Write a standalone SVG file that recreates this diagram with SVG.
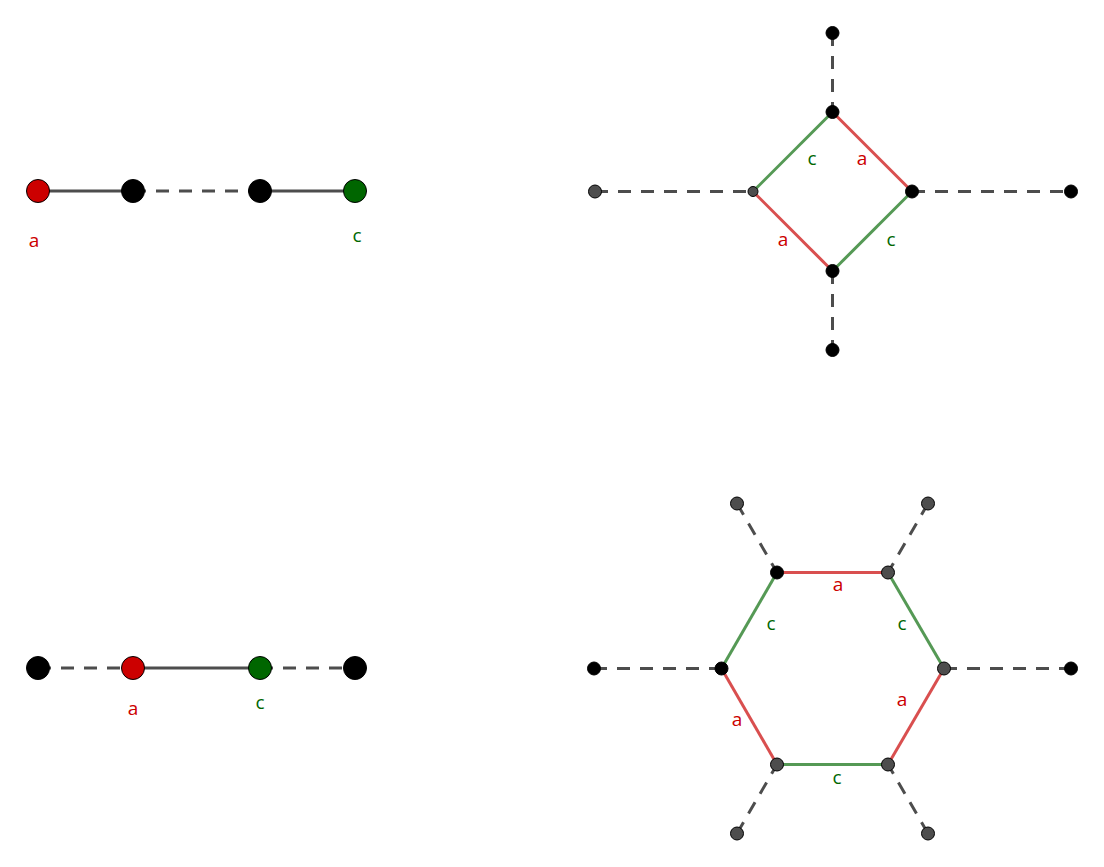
<svg xmlns="http://www.w3.org/2000/svg" width="1104" height="867" viewBox="0 0 1104 867">
<style>
.s{stroke:#4d4d4d;stroke-width:3;fill:none}
.d{stroke:#4d4d4d;stroke-width:3;fill:none;stroke-dasharray:13 10}
.r{stroke:#d94f4f;stroke-width:3;fill:none}
.g{stroke:#559955;stroke-width:3;fill:none}
.nb{fill:#000;stroke:#000;stroke-width:1}
.ng{fill:#4d4d4d;stroke:#000;stroke-width:1}
.nr{fill:#cc0000;stroke:#000;stroke-width:1}
.nG{fill:#006600;stroke:#000;stroke-width:1}
text{font-family:"Open Sans","Noto Sans",sans-serif;font-size:19px;text-anchor:middle}
.tr{fill:#cc0000}
.tg{fill:#006600}
</style>
<rect width="1104" height="867" fill="#fff"/>
<g id="connectors">
<line class="s" x1="38" y1="191" x2="133" y2="191"/>
<line class="d" x1="133" y1="191" x2="260" y2="191"/>
<line class="s" x1="260" y1="191" x2="355" y2="191"/>
<line class="d" x1="595" y1="191.5" x2="753" y2="191.5"/>
<line class="d" x1="912" y1="191.5" x2="1071" y2="191.5"/>
<line class="d" x1="832.5" y1="33" x2="832.5" y2="112"/>
<line class="d" x1="832.5" y1="271" x2="832.5" y2="350"/>
<line class="g" x1="753" y1="191.5" x2="832.5" y2="112"/>
<line class="r" x1="832.5" y1="112" x2="912" y2="191.5"/>
<line class="r" x1="753" y1="191.5" x2="832.5" y2="271"/>
<line class="g" x1="832.5" y1="271" x2="912" y2="191.5"/>
<line class="d" x1="38" y1="668" x2="133" y2="668"/>
<line class="s" x1="133" y1="668" x2="260" y2="668"/>
<line class="d" x1="260" y1="668" x2="355" y2="668"/>
<line class="d" x1="737" y1="503.5" x2="777" y2="572.5"/>
<line class="d" x1="928" y1="503.5" x2="888" y2="572.5"/>
<line class="d" x1="594" y1="668.5" x2="721.5" y2="668.5"/>
<line class="d" x1="944" y1="668.5" x2="1071" y2="668.5"/>
<line class="d" x1="737" y1="833.5" x2="777" y2="764.5"/>
<line class="d" x1="928" y1="833.5" x2="888" y2="764.5"/>
<line class="r" x1="777" y1="572.5" x2="888" y2="572.5"/>
<line class="g" x1="888" y1="572.5" x2="944" y2="668.5"/>
<line class="r" x1="944" y1="668.5" x2="888" y2="764.5"/>
<line class="g" x1="888" y1="764.5" x2="777" y2="764.5"/>
<line class="r" x1="777" y1="764.5" x2="721.5" y2="668.5"/>
<line class="g" x1="721.5" y1="668.5" x2="777" y2="572.5"/>
</g>
<g id="n1"><circle class="nr" cx="38" cy="191" r="11.5"/><text class="tr" x="34" y="247">a</text></g>
<g id="n2"><circle class="nb" cx="133" cy="191" r="11.5"/></g>
<g id="n3"><circle class="nb" cx="260" cy="191" r="11.5"/></g>
<g id="n4"><circle class="nG" cx="355" cy="191" r="11.5"/><text class="tg" x="357" y="242">c</text></g>
<g id="d_top_out"><circle class="nb" cx="832.5" cy="33" r="6.5"/></g>
<g id="d_top"><circle class="nb" cx="832.5" cy="112" r="6.5"/></g>
<g id="d_left_out"><circle class="ng" cx="595" cy="191.5" r="6.5"/></g>
<g id="d_left"><circle class="ng" cx="753" cy="191.5" r="5"/></g>
<g id="d_right"><circle class="nb" cx="912" cy="191.5" r="6.5"/></g>
<g id="d_right_out"><circle class="nb" cx="1071" cy="191.5" r="6.5"/></g>
<g id="d_bottom"><circle class="nb" cx="832.5" cy="271" r="6.5"/></g>
<g id="d_bottom_out"><circle class="nb" cx="832.5" cy="350" r="6.5"/></g>
<g id="d_labels">
<text class="tg" x="812" y="165">c</text>
<text class="tr" x="862" y="165">a</text>
<text class="tr" x="783" y="246">a</text>
<text class="tg" x="891" y="246">c</text>
</g>
<g id="m1"><circle class="nb" cx="38" cy="668" r="11.5"/></g>
<g id="m2"><circle class="nr" cx="133" cy="668" r="11.5"/><text class="tr" x="133" y="715">a</text></g>
<g id="m3"><circle class="nG" cx="260" cy="668" r="11.5"/><text class="tg" x="260" y="709">c</text></g>
<g id="m4"><circle class="nb" cx="355" cy="668" r="11.5"/></g>
<g id="h_tl_out"><circle class="ng" cx="737" cy="503.5" r="6.5"/></g>
<g id="h_tr_out"><circle class="ng" cx="928" cy="503.5" r="6.5"/></g>
<g id="h_l_out"><circle class="nb" cx="594" cy="668.5" r="6.5"/></g>
<g id="h_r_out"><circle class="nb" cx="1071" cy="668.5" r="6.5"/></g>
<g id="h_bl_out"><circle class="ng" cx="737" cy="833.5" r="6.5"/></g>
<g id="h_br_out"><circle class="ng" cx="928" cy="833.5" r="6.5"/></g>
<g id="h_tl"><circle class="nb" cx="777" cy="572.5" r="6.5"/></g>
<g id="h_tr"><circle class="ng" cx="888" cy="572.5" r="6.5"/></g>
<g id="h_r"><circle class="ng" cx="944" cy="668.5" r="6.5"/></g>
<g id="h_br"><circle class="ng" cx="888" cy="764.5" r="6.5"/></g>
<g id="h_bl"><circle class="ng" cx="777" cy="764.5" r="6.5"/></g>
<g id="h_l"><circle class="nb" cx="721.5" cy="668.5" r="6.5"/></g>
<g id="h_labels">
<text class="tr" x="838" y="591">a</text>
<text class="tg" x="902" y="630">c</text>
<text class="tr" x="902" y="706">a</text>
<text class="tg" x="837" y="784">c</text>
<text class="tr" x="737" y="726">a</text>
<text class="tg" x="771" y="630">c</text>
</g>
</svg>
